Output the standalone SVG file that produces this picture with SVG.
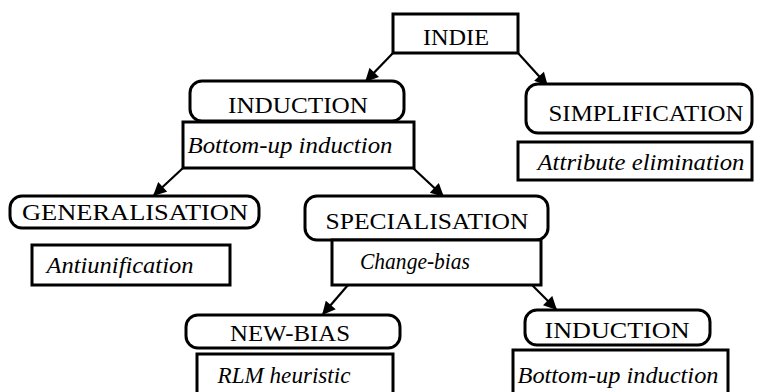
<svg xmlns="http://www.w3.org/2000/svg" width="760" height="392" viewBox="0 0 760 392">
<defs>
<marker id="ah" viewBox="0 0 10 10" refX="9" refY="5" markerWidth="6.5" markerHeight="6" orient="auto" markerUnits="strokeWidth">
<path d="M0,0 L10,5 L0,10 z" fill="#000"/>
</marker>
<style>
.rb{fill:#fff;stroke:#000;stroke-width:3}
.bx{fill:#fff;stroke:#000;stroke-width:3}
.t{font-family:"Liberation Serif","DejaVu Serif",serif;font-size:24px;fill:#000;text-anchor:middle}
.i{font-family:"Liberation Serif","DejaVu Serif",serif;font-size:23px;font-style:italic;fill:#000;text-anchor:middle}
.c{stroke:#000;stroke-width:2.2;fill:none;marker-end:url(#ah)}
</style>
</defs>
<rect width="760" height="392" fill="#fff"/>
<g id="connectors">
<line class="c" x1="393" y1="53" x2="366" y2="81"/>
<line class="c" x1="518" y1="53" x2="547" y2="85"/>
<line class="c" x1="183" y1="168" x2="154" y2="195"/>
<line class="c" x1="413" y1="168" x2="443" y2="196"/>
<line class="c" x1="348" y1="285" x2="323" y2="314"/>
<line class="c" x1="532" y1="285" x2="556" y2="309"/>
</g>
<g id="indie">
<rect class="bx" x="393" y="14" width="125" height="39"/>
<text class="t" x="456" y="45" textLength="66" lengthAdjust="spacingAndGlyphs">INDIE</text>
</g>
<g id="induction1">
<rect class="rb" x="190" y="81" width="214" height="40" rx="12"/>
<text class="t" x="298" y="113" textLength="140" lengthAdjust="spacingAndGlyphs">INDUCTION</text>
<rect class="bx" x="183" y="122" width="231" height="46"/>
<text class="i" x="290" y="153" textLength="205" lengthAdjust="spacingAndGlyphs">Bottom-up induction</text>
</g>
<g id="simplification">
<rect class="rb" x="526" y="84" width="226" height="49" rx="12"/>
<text class="t" x="646" y="121" textLength="195" lengthAdjust="spacingAndGlyphs">SIMPLIFICATION</text>
<rect class="bx" x="518" y="142" width="234" height="38"/>
<text class="i" x="641" y="170" textLength="207" lengthAdjust="spacingAndGlyphs">Attribute elimination</text>
</g>
<g id="generalisation">
<rect class="rb" x="10" y="196" width="249" height="32" rx="12"/>
<text class="t" x="135" y="220" textLength="226" lengthAdjust="spacingAndGlyphs">GENERALISATION</text>
<rect class="bx" x="32" y="245" width="198" height="40"/>
<text class="i" x="120" y="273" textLength="147" lengthAdjust="spacingAndGlyphs">Antiunification</text>
</g>
<g id="specialisation">
<rect class="rb" x="305" y="196" width="243" height="44" rx="12"/>
<text class="t" x="427" y="229" textLength="203" lengthAdjust="spacingAndGlyphs">SPECIALISATION</text>
<rect class="bx" x="332" y="240" width="209" height="45"/>
<text class="i" x="415" y="269" textLength="110" lengthAdjust="spacingAndGlyphs">Change-bias</text>
</g>
<g id="newbias">
<rect class="rb" x="186" y="315" width="214" height="33" rx="12"/>
<text class="t" x="290" y="341" textLength="120" lengthAdjust="spacingAndGlyphs">NEW-BIAS</text>
<rect class="bx" x="197" y="354" width="196" height="40"/>
<text class="i" x="284" y="383" textLength="133" lengthAdjust="spacingAndGlyphs">RLM heuristic</text>
</g>
<g id="induction2">
<rect class="rb" x="525" y="310" width="185" height="35" rx="12"/>
<text class="t" x="617" y="338" textLength="145" lengthAdjust="spacingAndGlyphs">INDUCTION</text>
<rect class="bx" x="513" y="350" width="215" height="44"/>
<text class="i" x="618" y="383" textLength="201" lengthAdjust="spacingAndGlyphs">Bottom-up induction</text>
</g>
</svg>
